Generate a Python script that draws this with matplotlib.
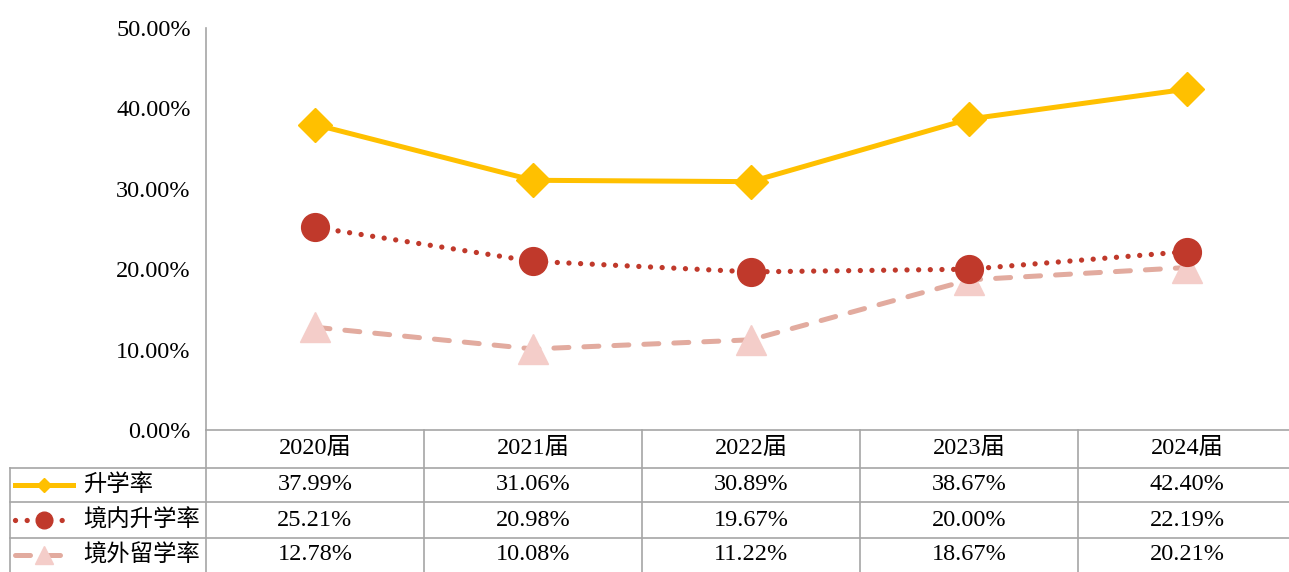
import matplotlib.pyplot as plt
from matplotlib.lines import Line2D
from matplotlib.transforms import blended_transform_factory

# serif digits, CJK fallback for the Chinese labels
plt.rcParams['font.family'] = ['Liberation Serif', 'Noto Sans CJK SC']

#%% Data
years         = ['2020届', '2021届', '2022届', '2023届', '2024届']
rate_total    = [37.99, 31.06, 30.89, 38.67, 42.40]
rate_domestic = [25.21, 20.98, 19.67, 20.00, 22.19]
rate_abroad   = [12.78, 10.08, 11.22, 18.67, 20.21]
series_names  = ['升学率', '境内升学率', '境外留学率']
y_ticks       = [0, 10, 20, 30, 40, 50]

#%% Styles
gold      = '#FFC000'
red       = '#C0392B'
pink_line = '#E2AB9F'
pink_mark = '#F4CDC9'
grid_gray = '#A6A6A6'
fs        = 17.5

styles = [
    dict(color=gold, lw=3.6, ls='-', marker='D', ms=17, mfc=gold, mec=gold),
    dict(color=red, lw=3.8, ls=(0, (0.01, 2.2)), marker='o', ms=20, mfc=red, mec=red,
         dash_capstyle='round'),
    dict(color=pink_line, lw=3.6, ls=(0, (3, 3)), marker='^', ms=22, mfc=pink_mark, mec=pink_mark,
         dash_capstyle='round'),
]
series = [rate_total, rate_domestic, rate_abroad]

#%% Figure
W, H = 1289, 572
fig = plt.figure(figsize=(W / 100, H / 100), dpi=100)
ax = fig.add_axes([206 / W, (H - 430) / H, 1090 / W, 402 / H])

x = list(range(len(years)))
for vals, st in zip(series[::-1], styles[::-1]):
    ax.plot(x, vals, **st)

ax.set_xlim(-0.5, len(years) - 0.5)
ax.set_ylim(0, 50)
ax.set_yticks(y_ticks)
ax.set_yticklabels([f'{t:.2f}%' for t in y_ticks])
ax.set_xticks([])
ax.tick_params(axis='y', length=0, pad=11, labelsize=fs)
for s in ['top', 'right', 'bottom']:
    ax.spines[s].set_visible(False)
ax.spines['left'].set_color(grid_gray)
ax.spines['left'].set_linewidth(1.2)

#%% Data table under the plot
def fy(px):
    return 1 - px / H

xd_fy = blended_transform_factory(ax.transData, fig.transFigure)
row_edges = [430, 468, 502, 538]
row_mid   = [449, 485, 520, 555]

# horizontal rules
fig.add_artist(Line2D([206 / W, 1], [fy(430)] * 2, color=grid_gray, lw=1.2))
for yp in row_edges[1:]:
    fig.add_artist(Line2D([10 / W, 1], [fy(yp)] * 2, color=grid_gray, lw=1.2))
# vertical rules at the category borders
for i in range(len(years)):
    fig.add_artist(Line2D([i - 0.5] * 2, [fy(430), 0], color=grid_gray, lw=1.2,
                          transform=xd_fy))
fig.add_artist(Line2D([10 / W] * 2, [fy(468), 0], color=grid_gray, lw=1.2))

for i, yr in enumerate(years):
    fig.text(i, fy(row_mid[0]), yr, transform=xd_fy, ha='center', va='center', fontsize=fs)
    for r, vals in enumerate(series):
        fig.text(i, fy(row_mid[r + 1]), f'{vals[i]:.2f}%', transform=xd_fy,
                 ha='center', va='center', fontsize=fs)

# legend keys in the first column
key_ms = [7.5, 12, 13]
for r, (name, st) in enumerate(zip(series_names, styles)):
    yk = fy(row_mid[r + 1])
    line_st = {k: v for k, v in st.items() if k not in ('marker', 'ms', 'mfc', 'mec')}
    fig.add_artist(Line2D([15 / W, 73 / W], [yk, yk], **line_st))
    fig.add_artist(Line2D([44 / W], [yk], ls='none', marker=st['marker'], ms=key_ms[r],
                          mfc=st['mfc'], mec=st['mec']))
    fig.text(83 / W, yk, name, ha='left', va='center', fontsize=16.8)

fig.savefig('out.png', dpi=100)
